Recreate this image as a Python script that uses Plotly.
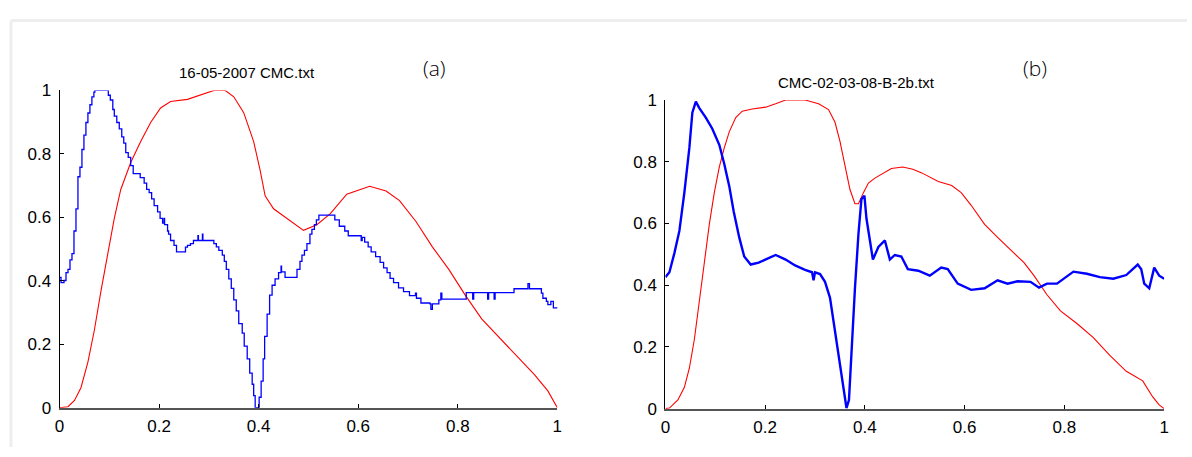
import plotly.graph_objects as go

# ---------- data (a) ----------
a_red_x = [0, 0.017, 0.03, 0.043, 0.057, 0.07, 0.083, 0.097, 0.11, 0.123, 0.143, 0.163, 0.183, 0.203, 0.223,
           0.257, 0.283, 0.31, 0.333, 0.35, 0.37, 0.39, 0.403, 0.413, 0.43, 0.457, 0.49, 0.517, 0.544, 0.577,
           0.623, 0.656, 0.683, 0.716, 0.749, 0.782, 0.815, 0.848, 0.881, 0.921, 0.954, 0.981, 1.0]
a_red_y = [0, 0.003, 0.023, 0.063, 0.144, 0.245, 0.366, 0.486, 0.597, 0.688, 0.773, 0.839, 0.899, 0.945, 0.965,
           0.972, 0.985, 1.0, 1.0, 0.98, 0.93, 0.839, 0.748, 0.668, 0.627, 0.597, 0.559, 0.577, 0.612, 0.673,
           0.698, 0.683, 0.653, 0.587, 0.507, 0.436, 0.355, 0.280, 0.225, 0.159, 0.104, 0.053, 0.0]

a_blue_x = [0.000, 0.003, 0.009, 0.013, 0.017, 0.021, 0.025, 0.029, 0.033, 0.037, 0.041, 0.045, 0.049, 0.053,
            0.057, 0.061, 0.065, 0.069, 0.071, 0.093, 0.098, 0.102, 0.107, 0.110, 0.115, 0.120, 0.125, 0.129,
            0.133, 0.138, 0.143, 0.148, 0.162, 0.170, 0.175, 0.180, 0.185, 0.190, 0.197, 0.202, 0.207, 0.210,
            0.211, 0.217, 0.219, 0.223, 0.230, 0.235, 0.253, 0.257, 0.263, 0.269, 0.278, 0.279, 0.287, 0.288,
            0.310, 0.315, 0.320, 0.327, 0.331, 0.335, 0.340, 0.345, 0.350, 0.355, 0.360, 0.367, 0.371, 0.377,
            0.382, 0.387, 0.390, 0.393, 0.398, 0.401, 0.405, 0.409, 0.412, 0.417, 0.422, 0.427, 0.433, 0.440,
            0.445, 0.446, 0.453, 0.471, 0.477, 0.483, 0.487, 0.492, 0.497, 0.503, 0.507, 0.512, 0.516, 0.521,
            0.550, 0.553, 0.562, 0.573, 0.580, 0.603, 0.606, 0.608, 0.613, 0.620, 0.626, 0.635, 0.644, 0.651,
            0.658, 0.664, 0.671, 0.681, 0.691, 0.703, 0.715, 0.717, 0.726, 0.744, 0.746, 0.749, 0.762, 0.766,
            0.768, 0.815, 0.817, 0.828, 0.830, 0.832, 0.858, 0.860, 0.862, 0.872, 0.873, 0.875, 0.911, 0.913,
            0.938, 0.941, 0.944, 0.961, 0.968, 0.971, 0.978, 0.981, 0.987, 0.992, 1.0]
a_blue_y = [0.411, 0.394, 0.401, 0.426, 0.436, 0.466, 0.486, 0.557, 0.627, 0.728, 0.758, 0.814, 0.859, 0.899,
            0.929, 0.955, 0.980, 0.995, 1.0, 1.0, 0.985, 0.970, 0.940, 0.919, 0.899, 0.879, 0.854, 0.834,
            0.804, 0.789, 0.763, 0.738, 0.725, 0.708, 0.688, 0.678, 0.658, 0.637, 0.617, 0.597, 0.582, 0.597,
            0.577, 0.557, 0.547, 0.527, 0.512, 0.491, 0.506, 0.512, 0.517, 0.527, 0.542, 0.527, 0.547, 0.527,
            0.517, 0.507, 0.496, 0.481, 0.461, 0.436, 0.406, 0.376, 0.340, 0.305, 0.265, 0.235, 0.194, 0.154,
            0.109, 0.074, 0.038, 0.0, 0.0, 0.033, 0.084, 0.154, 0.225, 0.295, 0.355, 0.386, 0.406, 0.426,
            0.446, 0.428, 0.411, 0.411, 0.436, 0.461, 0.481, 0.496, 0.517, 0.547, 0.562, 0.577, 0.592, 0.607,
            0.607, 0.592, 0.572, 0.557, 0.542, 0.542, 0.527, 0.537, 0.522, 0.507, 0.491, 0.476, 0.458, 0.441,
            0.426, 0.408, 0.394, 0.378, 0.366, 0.353, 0.361, 0.345, 0.330, 0.327, 0.310, 0.327, 0.340, 0.361,
            0.342, 0.342, 0.363, 0.363, 0.342, 0.363, 0.363, 0.342, 0.363, 0.363, 0.342, 0.363, 0.363, 0.375,
            0.375, 0.391, 0.375, 0.375, 0.361, 0.345, 0.335, 0.325, 0.335, 0.315, 0.313]

# ---------- data (b) ----------
b_red_x = [0, 0.008, 0.025, 0.038, 0.048, 0.058, 0.068, 0.078, 0.088, 0.098, 0.108, 0.118, 0.128, 0.141, 0.154,
           0.174, 0.201, 0.221, 0.241, 0.280, 0.307, 0.327, 0.340, 0.350, 0.360, 0.370, 0.380, 0.387, 0.397,
           0.407, 0.420, 0.440, 0.453, 0.476, 0.496, 0.514, 0.547, 0.574, 0.593, 0.613, 0.640, 0.666, 0.693,
           0.719, 0.739, 0.765, 0.792, 0.825, 0.858, 0.891, 0.924, 0.957, 0.977, 0.990, 1.0]
b_red_y = [0, 0.002, 0.028, 0.069, 0.131, 0.224, 0.348, 0.473, 0.597, 0.700, 0.783, 0.845, 0.897, 0.943, 0.964,
           0.971, 0.977, 0.988, 1.0, 1.0, 0.988, 0.969, 0.928, 0.866, 0.783, 0.710, 0.664, 0.664, 0.700,
           0.731, 0.747, 0.767, 0.778, 0.783, 0.776, 0.764, 0.736, 0.723, 0.700, 0.659, 0.597, 0.555, 0.514,
           0.473, 0.431, 0.369, 0.317, 0.276, 0.230, 0.173, 0.121, 0.090, 0.038, 0.012, 0.0]

b_blue_x = [0, 0.008, 0.018, 0.028, 0.038, 0.048, 0.054, 0.061, 0.068, 0.081, 0.094, 0.108, 0.118, 0.128, 0.137,
            0.148, 0.158, 0.171, 0.187, 0.207, 0.221, 0.241, 0.260, 0.280, 0.294, 0.297, 0.300, 0.310, 0.320,
            0.330, 0.337, 0.347, 0.357, 0.363, 0.368, 0.373, 0.380, 0.387, 0.393, 0.399, 0.403, 0.410, 0.416,
            0.427, 0.440, 0.450, 0.460, 0.473, 0.486, 0.507, 0.530, 0.553, 0.566, 0.586, 0.613, 0.640, 0.666,
            0.686, 0.706, 0.732, 0.749, 0.765, 0.785, 0.818, 0.845, 0.871, 0.898, 0.924, 0.947, 0.954, 0.960,
            0.970, 0.980, 0.990, 1.0]
b_blue_y = [0.426, 0.442, 0.504, 0.576, 0.700, 0.845, 0.959, 0.995, 0.974, 0.943, 0.907, 0.855, 0.793, 0.721,
            0.638, 0.555, 0.493, 0.467, 0.473, 0.488, 0.498, 0.483, 0.464, 0.450, 0.442, 0.416, 0.442, 0.436,
            0.411, 0.359, 0.286, 0.183, 0.069, 0.002, 0.028, 0.183, 0.390, 0.566, 0.679, 0.690, 0.617, 0.545,
            0.483, 0.524, 0.545, 0.483, 0.498, 0.493, 0.452, 0.447, 0.431, 0.457, 0.452, 0.405, 0.385, 0.390,
            0.416, 0.405, 0.413, 0.411, 0.392, 0.405, 0.405, 0.444, 0.437, 0.426, 0.421, 0.433, 0.467, 0.452,
            0.405, 0.390, 0.457, 0.431, 0.421]

tick_vals = [0, 0.2, 0.4, 0.6, 0.8, 1]
tick_text = ["0", "0.2", "0.4", "0.6", "0.8", "1"]
titles = ["16-05-2007 CMC.txt", "CMC-02-03-08-B-2b.txt"]
panel_labels = ["(a)", "(b)"]

W, H = 1192, 457
fig = go.Figure()

fig.add_trace(go.Scatter(x=a_red_x, y=a_red_y, mode="lines", line=dict(color="#ff0000", width=1.1),
                         xaxis="x", yaxis="y", showlegend=False))
fig.add_trace(go.Scatter(x=a_blue_x, y=a_blue_y, mode="lines", line=dict(color="#0000ff", width=1.3, shape="hv"),
                         xaxis="x", yaxis="y", showlegend=False))
fig.add_trace(go.Scatter(x=b_red_x, y=b_red_y, mode="lines", line=dict(color="#ff0000", width=1.1),
                         xaxis="x2", yaxis="y2", showlegend=False))
fig.add_trace(go.Scatter(x=b_blue_x, y=b_blue_y, mode="lines", line=dict(color="#0000ff", width=2.4),
                         xaxis="x2", yaxis="y2", showlegend=False))


def px_x(p):
    return p / W


def px_y(p):
    return 1 - p / H


axfont = dict(family="Liberation Sans, Arial, sans-serif", size=17, color="#000000")
common_x = dict(range=[0, 1], tickvals=tick_vals, ticktext=tick_text, ticks="inside", ticklen=4,
                tickcolor="#000000", showgrid=False, zeroline=False, showline=True, linecolor="#555555",
                linewidth=2, tickfont=axfont, fixedrange=True, ticklabelstandoff=2)
common_y = dict(range=[0, 1], tickvals=tick_vals, ticktext=tick_text, ticks="inside", ticklen=4,
                tickcolor="#000000", showgrid=False, zeroline=False, showline=True, linecolor="#000000",
                linewidth=1, tickfont=axfont, fixedrange=True, ticklabelstandoff=4)

fig.update_layout(
    width=W, height=H, margin=dict(l=0, r=0, t=0, b=0),
    paper_bgcolor="white", plot_bgcolor="white",
    xaxis=dict(domain=[px_x(55), px_x(557)], anchor="y", **common_x),
    yaxis=dict(domain=[px_y(416), px_y(85)], anchor="x", **common_y),
    xaxis2=dict(domain=[px_x(666), px_x(1169)], anchor="y2", **common_x),
    yaxis2=dict(domain=[px_y(417), px_y(95)], anchor="x2", **common_y),
)

titlefont = dict(family="Liberation Sans, Arial, sans-serif", size=15, color="#000000")
labfont = dict(family="Open Sans, sans-serif", size=21, color="#000000", weight=300)
fig.add_annotation(text=titles[0], x=px_x(244), y=px_y(66), xref="paper", yref="paper",
                   showarrow=False, font=titlefont, xanchor="center", yanchor="middle")
fig.add_annotation(text=titles[1], x=px_x(859), y=px_y(77), xref="paper", yref="paper",
                   showarrow=False, font=titlefont, xanchor="center", yanchor="middle")
fig.add_annotation(text=panel_labels[0], x=px_x(433), y=px_y(62), xref="paper", yref="paper",
                   showarrow=False, font=labfont, xanchor="center", yanchor="middle")
fig.add_annotation(text=panel_labels[1], x=px_x(1039), y=px_y(62), xref="paper", yref="paper",
                   showarrow=False, font=labfont, xanchor="center", yanchor="middle")

# light frame
fig.add_shape(type="line", xref="paper", yref="paper", x0=px_x(6), x1=1, y0=px_y(12), y1=px_y(12),
              line=dict(color="#eeeeee", width=3))
fig.add_shape(type="line", xref="paper", yref="paper", x0=px_x(6), x1=px_x(6), y0=px_y(12), y1=0,
              line=dict(color="#eeeeee", width=3))

fig.write_html("out.html")
